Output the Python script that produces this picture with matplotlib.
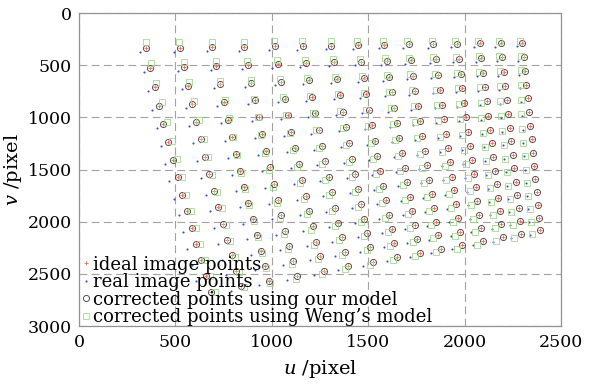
import numpy as np
import matplotlib
matplotlib.use("Agg")
import matplotlib.pyplot as plt

plt.rcParams['font.family'] = 'DejaVu Serif'
plt.rcParams['mathtext.fontset'] = 'dejavuserif'

# ideal image points (u, v) of the 15 x 15 target grid, one list per row
ideal_u = [
    [346, 522, 692, 856, 1014, 1160, 1309, 1449, 1584, 1709, 1838, 1959, 2078, 2188, 2299],
    [369, 543, 712, 875, 1032, 1177, 1324, 1463, 1597, 1721, 1849, 1969, 2087, 2196, 2306],
    [392, 565, 732, 893, 1049, 1193, 1339, 1477, 1610, 1733, 1860, 1979, 2096, 2204, 2313],
    [415, 587, 752, 912, 1067, 1209, 1354, 1491, 1623, 1745, 1870, 1989, 2105, 2211, 2320],
    [438, 608, 772, 931, 1084, 1226, 1369, 1505, 1636, 1757, 1881, 1998, 2114, 2219, 2327],
    [462, 631, 793, 951, 1102, 1243, 1385, 1520, 1649, 1769, 1892, 2008, 2123, 2227, 2334],
    [486, 653, 814, 970, 1120, 1260, 1401, 1534, 1662, 1781, 1903, 2018, 2131, 2235, 2341],
    [511, 676, 836, 990, 1139, 1277, 1416, 1548, 1675, 1793, 1914, 2028, 2140, 2242, 2347],
    [536, 700, 858, 1011, 1158, 1294, 1432, 1563, 1689, 1805, 1925, 2038, 2149, 2250, 2354],
    [561, 723, 879, 1031, 1176, 1311, 1448, 1577, 1702, 1817, 1935, 2047, 2157, 2258, 2360],
    [585, 745, 900, 1050, 1194, 1328, 1464, 1592, 1715, 1829, 1946, 2057, 2166, 2265, 2367],
    [609, 768, 921, 1069, 1212, 1345, 1479, 1606, 1727, 1840, 1957, 2066, 2174, 2273, 2373],
    [634, 791, 943, 1090, 1231, 1362, 1495, 1621, 1741, 1853, 1968, 2076, 2183, 2281, 2380],
    [659, 814, 965, 1110, 1250, 1379, 1510, 1635, 1754, 1864, 1978, 2086, 2191, 2288, 2386],
    [685, 839, 987, 1131, 1269, 1397, 1527, 1650, 1767, 1877, 1989, 2095, 2199, 2295, 2392],
]
ideal_v = [
    [338, 333, 329, 324, 320, 316, 312, 308, 304, 301, 298, 294, 291, 288, 285],
    [525, 516, 506, 498, 489, 481, 473, 466, 458, 452, 445, 438, 432, 426, 420],
    [710, 696, 682, 669, 657, 645, 633, 622, 611, 601, 591, 581, 572, 563, 554],
    [890, 872, 854, 837, 821, 805, 790, 775, 761, 748, 735, 722, 710, 699, 687],
    [1065, 1043, 1022, 1001, 981, 962, 944, 926, 909, 893, 877, 862, 847, 833, 819],
    [1238, 1212, 1187, 1163, 1140, 1118, 1096, 1075, 1055, 1037, 1018, 1000, 983, 966, 950],
    [1408, 1379, 1350, 1322, 1296, 1271, 1246, 1223, 1200, 1179, 1157, 1137, 1117, 1099, 1080],
    [1575, 1542, 1510, 1480, 1450, 1422, 1395, 1368, 1343, 1320, 1295, 1273, 1250, 1230, 1209],
    [1740, 1704, 1669, 1635, 1602, 1572, 1541, 1512, 1485, 1459, 1432, 1407, 1383, 1360, 1337],
    [1902, 1863, 1825, 1788, 1752, 1719, 1686, 1655, 1624, 1596, 1567, 1540, 1514, 1489, 1464],
    [2061, 2019, 1978, 1938, 1900, 1865, 1829, 1795, 1762, 1732, 1701, 1672, 1643, 1617, 1590],
    [2218, 2173, 2129, 2087, 2046, 2008, 1970, 1934, 1899, 1867, 1834, 1803, 1772, 1744, 1715],
    [2372, 2324, 2278, 2233, 2190, 2150, 2109, 2071, 2034, 2000, 1965, 1932, 1899, 1869, 1839],
    [2524, 2473, 2425, 2377, 2332, 2290, 2247, 2207, 2168, 2132, 2095, 2060, 2026, 1994, 1962],
    [2673, 2620, 2569, 2519, 2472, 2427, 2383, 2340, 2300, 2262, 2223, 2187, 2151, 2118, 2084],
]

# real (distorted) image points
real_u = [
    [318, 494, 664, 828, 986, 1132, 1281, 1421, 1556, 1681, 1810, 1931, 2050, 2160, 2271],
    [339, 513, 682, 845, 1002, 1147, 1294, 1433, 1567, 1691, 1819, 1939, 2057, 2166, 2276],
    [360, 533, 700, 861, 1017, 1161, 1307, 1445, 1578, 1701, 1828, 1947, 2064, 2172, 2281],
    [381, 553, 718, 878, 1033, 1175, 1320, 1457, 1589, 1711, 1836, 1955, 2071, 2177, 2286],
    [402, 572, 736, 895, 1048, 1190, 1333, 1469, 1600, 1721, 1845, 1962, 2078, 2183, 2291],
    [424, 593, 755, 913, 1064, 1205, 1347, 1482, 1611, 1731, 1854, 1970, 2085, 2189, 2296],
    [446, 613, 774, 930, 1080, 1220, 1361, 1494, 1622, 1741, 1863, 1978, 2091, 2195, 2301],
    [469, 634, 794, 948, 1097, 1235, 1374, 1506, 1633, 1751, 1872, 1986, 2098, 2200, 2305],
    [492, 656, 814, 967, 1114, 1250, 1388, 1519, 1645, 1761, 1881, 1994, 2105, 2206, 2310],
    [516, 678, 834, 986, 1131, 1266, 1403, 1532, 1657, 1772, 1890, 2002, 2112, 2213, 2315],
    [538, 698, 853, 1003, 1147, 1281, 1417, 1545, 1668, 1782, 1899, 2010, 2119, 2218, 2320],
    [561, 720, 873, 1021, 1164, 1297, 1431, 1558, 1679, 1792, 1909, 2018, 2126, 2225, 2325],
    [584, 741, 893, 1040, 1181, 1312, 1445, 1571, 1691, 1803, 1918, 2026, 2133, 2231, 2330],
    [608, 763, 914, 1059, 1199, 1328, 1459, 1584, 1703, 1813, 1927, 2035, 2140, 2237, 2335],
    [633, 787, 935, 1079, 1217, 1345, 1475, 1598, 1715, 1825, 1937, 2043, 2147, 2243, 2340],
]
real_v = [
    [374, 369, 365, 360, 356, 352, 348, 344, 340, 337, 334, 330, 327, 324, 321],
    [561, 552, 542, 534, 525, 517, 509, 502, 494, 488, 481, 474, 468, 462, 456],
    [746, 732, 718, 705, 693, 681, 669, 658, 647, 637, 627, 617, 608, 599, 590],
    [926, 908, 890, 873, 857, 841, 826, 811, 797, 784, 771, 758, 746, 735, 723],
    [1101, 1079, 1058, 1037, 1017, 998, 980, 962, 945, 929, 913, 898, 883, 869, 855],
    [1276, 1250, 1225, 1201, 1178, 1156, 1134, 1113, 1093, 1075, 1056, 1038, 1021, 1004, 988],
    [1446, 1417, 1388, 1360, 1334, 1309, 1284, 1261, 1238, 1217, 1195, 1175, 1155, 1137, 1118],
    [1613, 1580, 1548, 1518, 1488, 1460, 1433, 1406, 1381, 1358, 1333, 1311, 1288, 1268, 1247],
    [1778, 1742, 1707, 1673, 1640, 1610, 1579, 1550, 1523, 1497, 1470, 1445, 1421, 1398, 1375],
    [1940, 1901, 1863, 1826, 1790, 1757, 1724, 1693, 1662, 1634, 1605, 1578, 1552, 1527, 1502],
    [2101, 2059, 2018, 1978, 1940, 1905, 1869, 1835, 1802, 1772, 1741, 1712, 1683, 1657, 1630],
    [2258, 2213, 2169, 2127, 2086, 2048, 2010, 1974, 1939, 1907, 1874, 1843, 1812, 1784, 1755],
    [2412, 2364, 2318, 2273, 2230, 2190, 2149, 2111, 2074, 2040, 2005, 1972, 1939, 1909, 1879],
    [2564, 2513, 2465, 2417, 2372, 2330, 2287, 2247, 2208, 2172, 2135, 2100, 2066, 2034, 2002],
    [2713, 2660, 2609, 2559, 2512, 2467, 2423, 2380, 2340, 2302, 2263, 2227, 2191, 2158, 2124],
]

# points corrected with our model (they land on the ideal points)
ours_u = ideal_u
ours_v = ideal_v

# points corrected with Weng's model
weng_u = [
    [346, 521, 691, 854, 1011, 1156, 1305, 1444, 1578, 1702, 1831, 1951, 2069, 2178, 2289],
    [373, 545, 712, 872, 1028, 1171, 1317, 1455, 1588, 1710, 1838, 1956, 2073, 2180, 2290],
    [400, 571, 733, 890, 1043, 1184, 1329, 1466, 1597, 1718, 1844, 1962, 2076, 2182, 2290],
    [428, 596, 755, 908, 1060, 1198, 1342, 1476, 1607, 1727, 1850, 1967, 2080, 2184, 2291],
    [455, 621, 776, 927, 1075, 1212, 1354, 1487, 1616, 1735, 1856, 1972, 2083, 2186, 2291],
    [483, 647, 798, 946, 1092, 1227, 1367, 1499, 1626, 1743, 1863, 1977, 2087, 2188, 2292],
    [507, 669, 819, 965, 1110, 1244, 1383, 1513, 1639, 1755, 1874, 1987, 2095, 2196, 2299],
    [532, 692, 841, 985, 1129, 1261, 1398, 1527, 1652, 1767, 1885, 1997, 2104, 2203, 2305],
    [557, 716, 863, 1006, 1148, 1278, 1414, 1542, 1666, 1779, 1896, 2007, 2113, 2211, 2312],
    [582, 739, 884, 1026, 1166, 1295, 1430, 1556, 1679, 1791, 1906, 2016, 2121, 2219, 2318],
    [606, 761, 905, 1045, 1184, 1312, 1446, 1571, 1692, 1803, 1917, 2026, 2130, 2226, 2325],
    [630, 784, 926, 1064, 1202, 1329, 1461, 1585, 1704, 1814, 1928, 2035, 2138, 2234, 2331],
    [655, 807, 948, 1085, 1221, 1346, 1477, 1600, 1718, 1827, 1939, 2045, 2147, 2242, 2338],
    [680, 830, 970, 1105, 1240, 1363, 1492, 1614, 1731, 1838, 1949, 2055, 2155, 2249, 2344],
    [706, 855, 992, 1126, 1259, 1381, 1509, 1629, 1744, 1851, 1960, 2064, 2163, 2256, 2350],
]
weng_v = [
    [281, 278, 277, 275, 273, 272, 271, 270, 268, 268, 268, 267, 266, 266, 266],
    [476, 470, 464, 460, 453, 447, 442, 438, 431, 428, 425, 420, 416, 413, 409],
    [669, 660, 650, 642, 632, 622, 612, 603, 594, 586, 580, 573, 565, 558, 551],
    [857, 845, 832, 821, 807, 792, 779, 766, 753, 742, 734, 723, 712, 703, 692],
    [1040, 1025, 1010, 996, 977, 960, 943, 926, 910, 895, 886, 872, 858, 845, 833],
    [1222, 1203, 1186, 1170, 1147, 1126, 1105, 1085, 1065, 1048, 1037, 1019, 1003, 987, 972],
    [1400, 1380, 1359, 1340, 1314, 1290, 1265, 1242, 1220, 1199, 1185, 1166, 1146, 1128, 1110],
    [1575, 1552, 1529, 1509, 1479, 1451, 1424, 1397, 1372, 1349, 1333, 1311, 1288, 1268, 1247],
    [1740, 1714, 1688, 1664, 1631, 1601, 1570, 1541, 1514, 1488, 1470, 1445, 1421, 1398, 1375],
    [1902, 1873, 1844, 1817, 1781, 1748, 1715, 1684, 1653, 1625, 1605, 1578, 1552, 1527, 1502],
    [2061, 2029, 1997, 1967, 1929, 1894, 1858, 1824, 1791, 1761, 1739, 1710, 1681, 1655, 1628],
    [2218, 2183, 2148, 2116, 2075, 2037, 1999, 1963, 1928, 1896, 1872, 1841, 1810, 1782, 1753],
    [2372, 2334, 2297, 2262, 2219, 2179, 2138, 2100, 2063, 2029, 2003, 1970, 1937, 1907, 1877],
    [2524, 2483, 2444, 2406, 2361, 2319, 2276, 2236, 2197, 2161, 2133, 2098, 2064, 2032, 2000],
    [2673, 2630, 2588, 2548, 2501, 2456, 2412, 2369, 2329, 2291, 2261, 2225, 2189, 2156, 2122],
]

labels = ["ideal image points", "real image points",
          "corrected points using our model", "corrected points using Weng\u2019s model"]

fig = plt.figure(figsize=(5.96, 3.86), dpi=100)
ax = fig.add_axes([0.1326, 0.1554, 0.8087, 0.8109])

ax.plot(np.ravel(ideal_u), np.ravel(ideal_v), ls='none', marker='+', ms=3.2,
        mew=0.6, color='#f26b5b', label=labels[0], zorder=3)
ax.plot(np.ravel(real_u), np.ravel(real_v), ls='none', marker='o', ms=1.5,
        mew=0, color='#3a48d0', label=labels[1], zorder=3)
ax.plot(np.ravel(ours_u), np.ravel(ours_v), ls='none', marker='o', ms=4.4,
        mfc='none', mew=0.65, color='#554444', label=labels[2], zorder=3)
ax.plot(np.ravel(weng_u), np.ravel(weng_v), ls='none', marker='s', ms=3.8,
        mfc='none', mew=0.6, color='#a3d88e', label=labels[3], zorder=3)

ax.set_xlim(0, 2500)
ax.set_ylim(3000, 0)
ax.set_xticks([0, 500, 1000, 1500, 2000, 2500])
ax.set_yticks([0, 500, 1000, 1500, 2000, 2500, 3000])
ax.tick_params(length=0, labelsize=12.5, pad=6)
ax.tick_params(axis='y', pad=5)
ax.grid(True, color='#a8a0a0', lw=0.8, ls=(0, (7, 4)))
ax.set_axisbelow(True)
for s in ax.spines.values():
    s.set_color('#9a9090')
    s.set_linewidth(0.9)

ax.set_xlabel('$u$ /pixel', fontsize=14, labelpad=5)
ax.set_ylabel('$v$ /pixel', fontsize=14, labelpad=3)

ax.legend(loc='lower left', bbox_to_anchor=(0.008, 0.0), frameon=False,
          fontsize=13, handlelength=0.4, handletextpad=0.15, borderpad=0,
          borderaxespad=0, labelspacing=-0.03)

fig.savefig('out.png', dpi=100)
